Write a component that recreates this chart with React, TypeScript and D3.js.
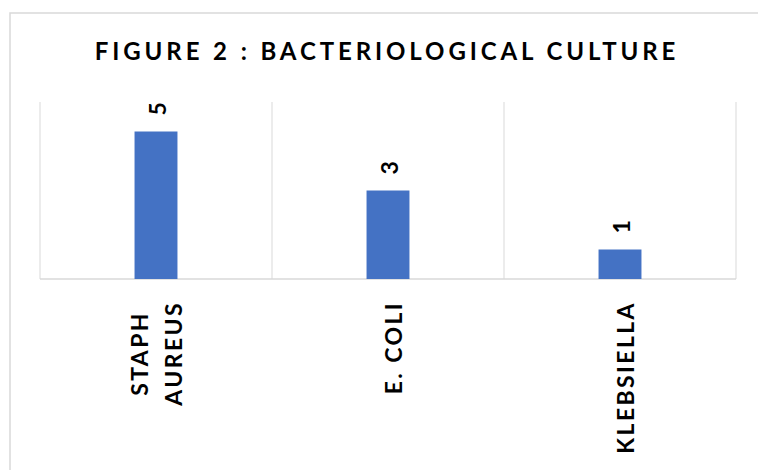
import React, { useEffect, useRef } from 'react';
import * as d3 from 'd3';

const title = 'FIGURE 2 : BACTERIOLOGICAL CULTURE';
const categories = ['STAPH AUREUS', 'E. COLI', 'KLEBSIELLA'];
const categoryLines = [['STAPH', 'AUREUS'], ['E. COLI'], ['KLEBSIELLA']];
const values = [5, 3, 1];
const yMax = 6;

const FONT = 'Lato, "Open Sans", sans-serif';
const GRID = '#d9d9d9';
const BAR = '#4472c4';

const App = () => {
  const svgRef = useRef<SVGSVGElement>(null);

  useEffect(() => {
    const svg = d3.select(svgRef.current);
    svg.selectAll('*').remove();

    const width = 758;
    const height = 470;
    const plot = { left: 40, right: 736, top: 102, bottom: 279 };

    // chart border
    svg.append('rect')
      .attr('x', 10).attr('y', 13)
      .attr('width', width).attr('height', height)
      .attr('fill', 'white')
      .attr('stroke', GRID).attr('stroke-width', 1.5);

    // title
    svg.append('text')
      .attr('x', (plot.left + plot.right) / 2 - 1)
      .attr('y', 60)
      .attr('text-anchor', 'middle')
      .attr('font-family', FONT)
      .attr('font-weight', 700)
      .attr('font-size', 24)
      .attr('letter-spacing', 3.9)
      .attr('fill', '#000')
      .text(title);

    const slots = d3.scaleBand<string>()
      .domain(categories)
      .range([plot.left, plot.right])
      .padding(0);

    const x = d3.scaleBand<string>()
      .domain(categories)
      .range([plot.left, plot.right])
      .paddingInner(0.815)
      .paddingOuter(0.4075);

    const y = d3.scaleLinear()
      .domain([0, yMax])
      .range([plot.bottom, plot.top]);

    // vertical gridlines between categories
    const edges = categories.map(c => slots(c) as number).concat([plot.right]);
    svg.append('g')
      .selectAll('line')
      .data(edges)
      .join('line')
      .attr('x1', d => d).attr('x2', d => d)
      .attr('y1', y(yMax)).attr('y2', y(0))
      .attr('stroke', GRID).attr('stroke-width', 1);

    // axis line
    svg.append('line')
      .attr('x1', plot.left).attr('x2', plot.right)
      .attr('y1', y(0)).attr('y2', y(0))
      .attr('stroke', GRID).attr('stroke-width', 1.5);

    // bars
    svg.append('g')
      .selectAll('rect')
      .data(values)
      .join('rect')
      .attr('x', (d, i) => x(categories[i]) as number)
      .attr('y', d => y(d))
      .attr('width', x.bandwidth())
      .attr('height', d => y(0) - y(d))
      .attr('fill', BAR);

    // value labels, rotated
    svg.append('g')
      .selectAll('text')
      .data(values)
      .join('text')
      .attr('transform', (d, i) => {
        const cx = (x(categories[i]) as number) + x.bandwidth() / 2 + 1;
        return `translate(${cx},${y(d) - 16}) rotate(-90)`;
      })
      .attr('dominant-baseline', 'central')
      .attr('font-family', FONT)
      .attr('font-weight', 700)
      .attr('font-size', 23)
      .attr('fill', '#000')
      .text(d => d);

    // category labels, rotated, lines centred on each other
    const lineGap = 34;
    categoryLines.forEach((lines, i) => {
      const cx = (x(categories[i]) as number) + x.bandwidth() / 2;
      const g = svg.append('g');
      const texts = lines.map((ln, j) => {
        const off = (j - (lines.length - 1) / 2) * lineGap + (lines.length === 1 ? 5 : 0);
        return g.append('text')
          .attr('dominant-baseline', 'central')
          .attr('text-anchor', 'middle')
          .attr('font-family', FONT)
          .attr('font-weight', 700)
          .attr('font-size', 23)
          .attr('letter-spacing', 2.4)
          .attr('fill', '#000')
          .datum(off)
          .text(ln);
      });
      const maxLen = d3.max(texts, t => (t.node() as SVGTextElement).getComputedTextLength()) || 0;
      texts.forEach(t => {
        const off = t.datum() as number;
        t.attr('transform', `translate(${cx + off},${y(0) + 22 + maxLen / 2}) rotate(-90)`);
      });
    });
  }, []);

  return (
    <svg
      ref={svgRef}
      width={758}
      height={470}
      style={{ position: 'absolute', left: 0, top: 0, display: 'block', background: 'white' }}
    />
  );
};

export default App;
